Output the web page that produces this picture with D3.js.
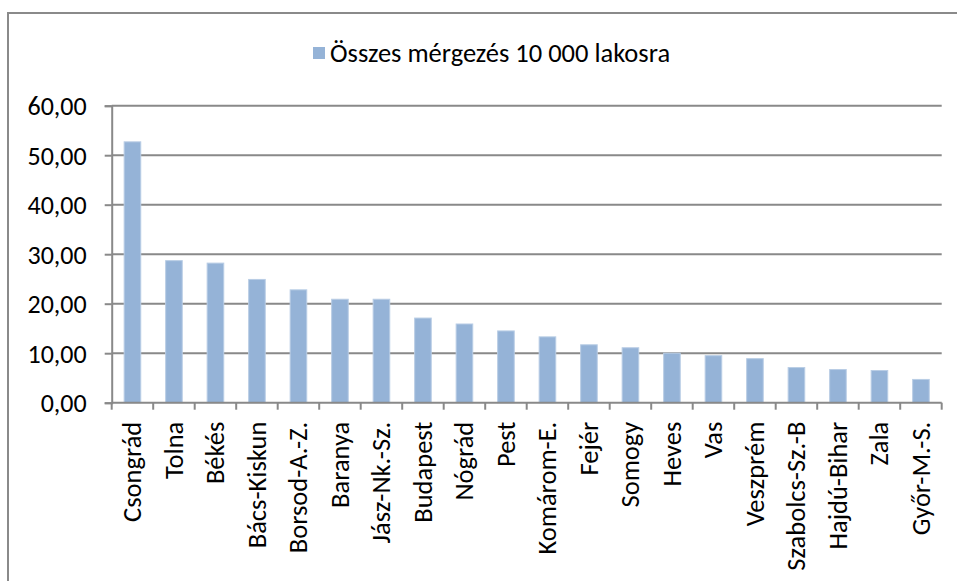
<!DOCTYPE html>
<html>
<head>
<meta charset="utf-8">
<script src="https://cdn.jsdelivr.net/npm/d3@7"></script>
<style>
  body { margin: 0; background: #fff; }
  svg text { font-family: Carlito, "Open Sans", sans-serif; fill: #000; }
</style>
</head>
<body>
<div id="chart"></div>
<script>
var counties = ["Csongrád", "Tolna", "Békés", "Bács-Kiskun", "Borsod-A.-Z.", "Baranya",
  "Jász-Nk.-Sz.", "Budapest", "Nógrád", "Pest", "Komárom-E.", "Fejér", "Somogy",
  "Heves", "Vas", "Veszprém", "Szabolcs-Sz.-B", "Hajdú-Bihar", "Zala", "Győr-M.-S."];
var poisonings = [52.7, 28.7, 28.2, 24.9, 22.8, 20.9, 20.9, 17.1, 15.9, 14.5,
  13.3, 11.7, 11.1, 10.0, 9.5, 8.9, 7.1, 6.7, 6.5, 4.7];
var yTicks = [0, 10, 20, 30, 40, 50, 60];
var seriesName = "Összes mérgezés 10 000 lakosra";

var width = 957, height = 581;
var plot = { left: 111.7, right: 941.7, top: 105.7, bottom: 402.7 };
var gridColor = "#898989";

var svg = d3.select("#chart").append("svg")
  .attr("width", width)
  .attr("height", height);

// outer chart border (right and bottom edges fall outside the view)
svg.append("rect")
  .attr("x", 8).attr("y", 13)
  .attr("width", 970).attr("height", 600)
  .attr("fill", "none")
  .attr("stroke", "#8a8a8a")
  .attr("stroke-width", 2);

var x = d3.scaleBand()
  .domain(counties)
  .range([plot.left, plot.right])
  .paddingInner(0.6)
  .paddingOuter(0.3);

var bounds = d3.scaleBand().domain(counties).range([plot.left, plot.right]);

var y = d3.scaleLinear().domain([0, 60]).range([plot.bottom, plot.top]);

// gridlines
svg.append("g")
  .selectAll("line")
  .data(yTicks.slice(1))
  .enter()
  .append("line")
  .attr("x1", plot.left).attr("x2", plot.right)
  .attr("y1", (d) => y(d)).attr("y2", (d) => y(d))
  .attr("stroke", gridColor)
  .attr("stroke-width", 2);

// bars
svg.append("g")
  .selectAll("rect")
  .data(poisonings)
  .enter()
  .append("rect")
  .attr("x", (d, i) => x(counties[i]))
  .attr("width", x.bandwidth())
  .attr("y", (d) => y(d))
  .attr("height", (d) => y(0) - y(d))
  .attr("fill", "#95b3d7")
  .attr("stroke", "#b9cde5")
  .attr("stroke-width", 1);

// y axis
var yAxis = svg.append("g")
  .attr("transform", `translate(${plot.left},0)`)
  .call(d3.axisLeft(y).tickValues(yTicks).tickSize(7).tickPadding(18)
    .tickFormat((d) => d3.format(".2f")(d).replace(".", ",")));
yAxis.select(".domain").attr("stroke", gridColor).attr("stroke-width", 2);
yAxis.selectAll(".tick line").attr("stroke", gridColor).attr("stroke-width", 2);
yAxis.selectAll("text")
  .style("font-size", "26px")
  .attr("dy", "0.34em");

// x axis: ticks sit on category boundaries
var xAxisG = svg.append("g").attr("transform", `translate(0,${plot.bottom})`);
xAxisG.append("line")
  .attr("x1", plot.left).attr("x2", plot.right)
  .attr("stroke", gridColor).attr("stroke-width", 2);
xAxisG.selectAll(".tk")
  .data(counties.concat(["end"]))
  .enter()
  .append("line")
  .attr("class", "tk")
  .attr("x1", (d, i) => plot.left + i * bounds.step())
  .attr("x2", (d, i) => plot.left + i * bounds.step())
  .attr("y1", 0).attr("y2", 7)
  .attr("stroke", gridColor).attr("stroke-width", 2);
xAxisG.selectAll("text")
  .data(counties)
  .enter()
  .append("text")
  .attr("transform", (d) => `translate(${bounds(d) + bounds.bandwidth() / 2},19) rotate(-90)`)
  .attr("text-anchor", "end")
  .attr("dy", "0.34em")
  .style("font-size", "26.5px")
  .text((d) => d);

// legend
var legend = svg.append("g").attr("transform", "translate(313,47)");
legend.append("rect")
  .attr("width", 12).attr("height", 12)
  .attr("fill", "#95b3d7");
legend.append("text")
  .attr("x", 17).attr("y", 15)
  .style("font-size", "26.5px")
  .text(seriesName);
</script>
</body>
</html>
